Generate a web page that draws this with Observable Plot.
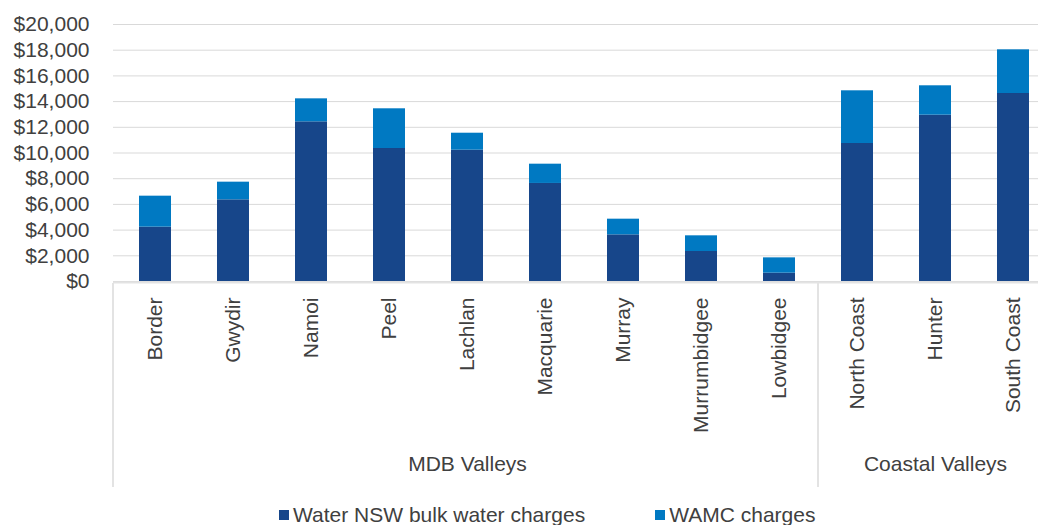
<!DOCTYPE html>
<html>
<head>
<meta charset="utf-8">
<script src="https://cdn.jsdelivr.net/npm/d3@7"></script>
<script src="https://cdn.jsdelivr.net/npm/@observablehq/plot@0.6"></script>
<style>
  html, body { margin: 0; padding: 0; background: #fff; overflow: hidden; }
  #wrap { position: relative; width: 1038px; height: 525px; overflow: hidden;
          font-family: "Liberation Sans", Arial, sans-serif; }
  #chart { position: absolute; left: 0; top: 0; width: 1056px; }
  #chart svg { max-width: none !important; }
  #legend { position: absolute; left: 279px; top: 503px; display: flex; align-items: center;
            font-size: 21px; color: #404040; white-space: nowrap; line-height: 24px; }
  .item { display: flex; align-items: center; }
  .item + .item { margin-left: 70px; }
  .swatch { width: 10px; height: 10px; margin-right: 4px; }
</style>
</head>
<body>
<div id="wrap">
  <div id="chart"></div>
  <div id="legend"></div>
</div>
<script>
// Valleys in display order
const valleys = ["Border", "Gwydir", "Namoi", "Peel", "Lachlan", "Macquarie", "Murray",
  "Murrumbidgee", "Lowbidgee", "North Coast", "Hunter", "South Coast"];

// Charges per valley ($)
const bulkCharges = [4230, 6355, 12425, 10350, 10220, 7630, 3630, 2335, 650, 10740, 12945, 14630];
const wamcCharges = [2410, 1375, 1790, 3090, 1320, 1500, 1220, 1220, 1190, 4100, 2285, 3400];

const seriesNames = ["Water NSW bulk water charges", "WAMC charges"];
const seriesColors = ["#17468a", "#0079c2"];

// Valley groupings shown beneath the category labels
const mdbValleys = ["Border", "Gwydir", "Namoi", "Peel", "Lachlan", "Macquarie", "Murray", "Murrumbidgee", "Lowbidgee"];
const coastalValleys = ["North Coast", "Hunter", "South Coast"];
const groupNames = ["MDB Valleys", "Coastal Valleys"];

const yTicks = [0, 2000, 4000, 6000, 8000, 10000, 12000, 14000, 16000, 18000, 20000];

// Long-format table for the stacked bars
const rows = valleys.flatMap((v, i) => [
  {valley: v, series: seriesNames[0], value: bulkCharges[i]},
  {valley: v, series: seriesNames[1], value: wamcCharges[i]}
]);
const groups = [
  {name: groupNames[0], members: mdbValleys},
  {name: groupNames[1], members: coastalValleys}
];

const W = 1056, H = 500, mL = 113, mR = 1, mT = 24, mB = 219;
const padInner = 0.59, padOuter = 0.295;
const fmt = d3.format(",");
const textColor = "#404040";

const chart = Plot.plot({
  width: W, height: H,
  marginLeft: mL, marginRight: mR, marginTop: mT, marginBottom: mB,
  style: {fontFamily: '"Liberation Sans", Arial, sans-serif', fontSize: "21px", background: "white", color: textColor},
  x: {domain: valleys, paddingInner: padInner, paddingOuter: padOuter, axis: null},
  y: {domain: [0, 20000], axis: null},
  color: {domain: seriesNames, range: seriesColors},
  marks: [
    Plot.gridY(yTicks, {stroke: "#d9d9d9", strokeOpacity: 1, strokeWidth: 1}),
    Plot.barY(rows, {x: "valley", y: "value", fill: "series"}),
    Plot.ruleY([0], {stroke: "#e3e3e3", strokeWidth: 2, dy: 1}),
    Plot.axisY(yTicks, {tickSize: 0, tickPadding: 24, fontSize: 21, fill: textColor, label: null,
      tickFormat: d => "$" + fmt(d)}),
    Plot.axisX({tickSize: 0, tickPadding: 16, tickRotate: -90, fontSize: 21, fill: textColor, label: null}),
    // Group label centred under the middle valley of each group
    Plot.text(groups, {
      x: g => g.members[Math.floor(g.members.length / 2)],
      text: "name", frameAnchor: "bottom", dy: 189, fontSize: 21, fill: textColor
    })
  ]
});
document.getElementById("chart").appendChild(chart);

// Vertical dividers between the valley groups, placed from the x scale
const xs = chart.scale("x");
const bw = xs.bandwidth;
const step = xs.step ?? bw / (1 - padInner);
const half = (step - bw) / 2;
const yBase = H - mB + 2;
const yEnd = yBase + 204;
const dividerX = [xs.range[0]];
groups.slice(1).forEach(g => dividerX.push(xs.apply(g.members[0]) - half));
dividerX.push(xs.range[1]);
d3.select(chart).append("g")
  .selectAll("line").data(dividerX).join("line")
  .attr("x1", d => d).attr("x2", d => d)
  .attr("y1", yBase).attr("y2", yEnd)
  .attr("stroke", "#e3e3e3").attr("stroke-width", 2);

// Legend
const legend = d3.select("#legend");
seriesNames.forEach((name, i) => {
  const item = legend.append("div").attr("class", "item");
  item.append("div").attr("class", "swatch").style("background", seriesColors[i]);
  item.append("span").text(name);
});
</script>
</body>
</html>
